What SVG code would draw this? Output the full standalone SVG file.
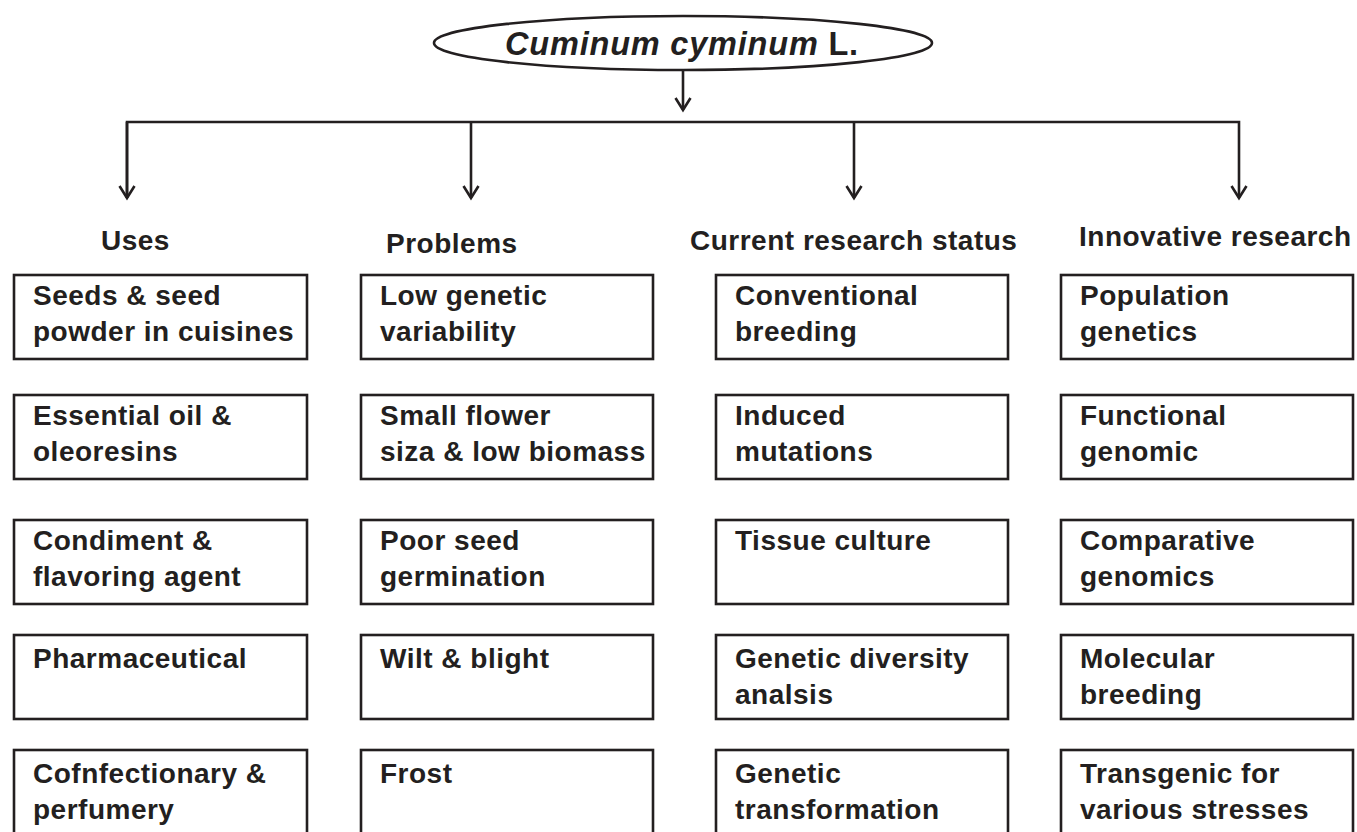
<svg xmlns="http://www.w3.org/2000/svg" width="1357" height="832" viewBox="0 0 1357 832">
<style>
text{font-family:"Liberation Sans",Arial,Helvetica,sans-serif;font-weight:bold;font-size:28px;fill:#231f20;letter-spacing:0.5px}
.box{fill:none;stroke:#231f20;stroke-width:2.6}
.ln{fill:none;stroke:#231f20;stroke-width:2.6}
.title{font-size:32.5px;letter-spacing:0.8px}
</style>
<defs>
<marker id="ah" markerUnits="userSpaceOnUse" viewBox="-15 -10 18 20" markerWidth="18" markerHeight="20" refX="0" refY="0" orient="auto">
<path d="M-12,-7.5 L0,0 L-12,7.5" fill="none" stroke="#231f20" stroke-width="2.6" stroke-linejoin="miter"/>
</marker>
</defs>
<rect width="1357" height="832" fill="#fff"/>
<g id="root">
<ellipse cx="683" cy="43" rx="249" ry="27" class="box"/>
<text x="682" y="55" text-anchor="middle" class="title"><tspan font-style="italic">Cuminum cyminum</tspan> L.</text>
</g>
<g id="connectors">
<path class="ln" d="M683,70 L683,110" marker-end="url(#ah)"/>
<path class="ln" d="M127,198 L127,122 L1239,122 L1239,198" marker-end="url(#ah)"/>
<path class="ln" d="M127,122 L127,198" marker-end="url(#ah)"/>
<path class="ln" d="M471,122 L471,198" marker-end="url(#ah)"/>
<path class="ln" d="M854,122 L854,198" marker-end="url(#ah)"/>
</g>
<g id="headers">
<text x="101" y="250">Uses</text>
<text x="386" y="253">Problems</text>
<text x="690" y="250">Current research status</text>
<text x="1079" y="246">Innovative research</text>
</g>
<g id="uses">
<g id="u1"><rect x="14" y="275" width="293" height="84" class="box"/><text x="33" y="305">Seeds &amp; seed</text><text x="33" y="341">powder in cuisines</text></g>
<g id="u2"><rect x="14" y="395" width="293" height="84" class="box"/><text x="33" y="425">Essential oil &amp;</text><text x="33" y="461">oleoresins</text></g>
<g id="u3"><rect x="14" y="520" width="293" height="84" class="box"/><text x="33" y="550">Condiment &amp;</text><text x="33" y="586">flavoring agent</text></g>
<g id="u4"><rect x="14" y="635" width="293" height="84" class="box"/><text x="33" y="668">Pharmaceutical</text></g>
<g id="u5"><rect x="14" y="750" width="293" height="84" class="box"/><text x="33" y="783">Cofnfectionary &amp;</text><text x="33" y="819">perfumery</text></g>
</g>
<g id="problems">
<g id="p1"><rect x="361" y="275" width="292" height="84" class="box"/><text x="380" y="305">Low genetic</text><text x="380" y="341">variability</text></g>
<g id="p2"><rect x="361" y="395" width="292" height="84" class="box"/><text x="380" y="425">Small flower</text><text x="380" y="461">siza &amp; low biomass</text></g>
<g id="p3"><rect x="361" y="520" width="292" height="84" class="box"/><text x="380" y="550">Poor seed</text><text x="380" y="586">germination</text></g>
<g id="p4"><rect x="361" y="635" width="292" height="84" class="box"/><text x="380" y="668">Wilt &amp; blight</text></g>
<g id="p5"><rect x="361" y="750" width="292" height="84" class="box"/><text x="380" y="783">Frost</text></g>
</g>
<g id="current">
<g id="c1"><rect x="716" y="275" width="292" height="84" class="box"/><text x="735" y="305">Conventional</text><text x="735" y="341">breeding</text></g>
<g id="c2"><rect x="716" y="395" width="292" height="84" class="box"/><text x="735" y="425">Induced</text><text x="735" y="461">mutations</text></g>
<g id="c3"><rect x="716" y="520" width="292" height="84" class="box"/><text x="735" y="550">Tissue culture</text></g>
<g id="c4"><rect x="716" y="635" width="292" height="84" class="box"/><text x="735" y="668">Genetic diversity</text><text x="735" y="704">analsis</text></g>
<g id="c5"><rect x="716" y="750" width="292" height="84" class="box"/><text x="735" y="783">Genetic</text><text x="735" y="819">transformation</text></g>
</g>
<g id="innovative">
<g id="i1"><rect x="1061" y="275" width="292" height="84" class="box"/><text x="1080" y="305">Population</text><text x="1080" y="341">genetics</text></g>
<g id="i2"><rect x="1061" y="395" width="292" height="84" class="box"/><text x="1080" y="425">Functional</text><text x="1080" y="461">genomic</text></g>
<g id="i3"><rect x="1061" y="520" width="292" height="84" class="box"/><text x="1080" y="550">Comparative</text><text x="1080" y="586">genomics</text></g>
<g id="i4"><rect x="1061" y="635" width="292" height="84" class="box"/><text x="1080" y="668">Molecular</text><text x="1080" y="704">breeding</text></g>
<g id="i5"><rect x="1061" y="750" width="292" height="84" class="box"/><text x="1080" y="783">Transgenic for</text><text x="1080" y="819">various stresses</text></g>
</g>
</svg>
